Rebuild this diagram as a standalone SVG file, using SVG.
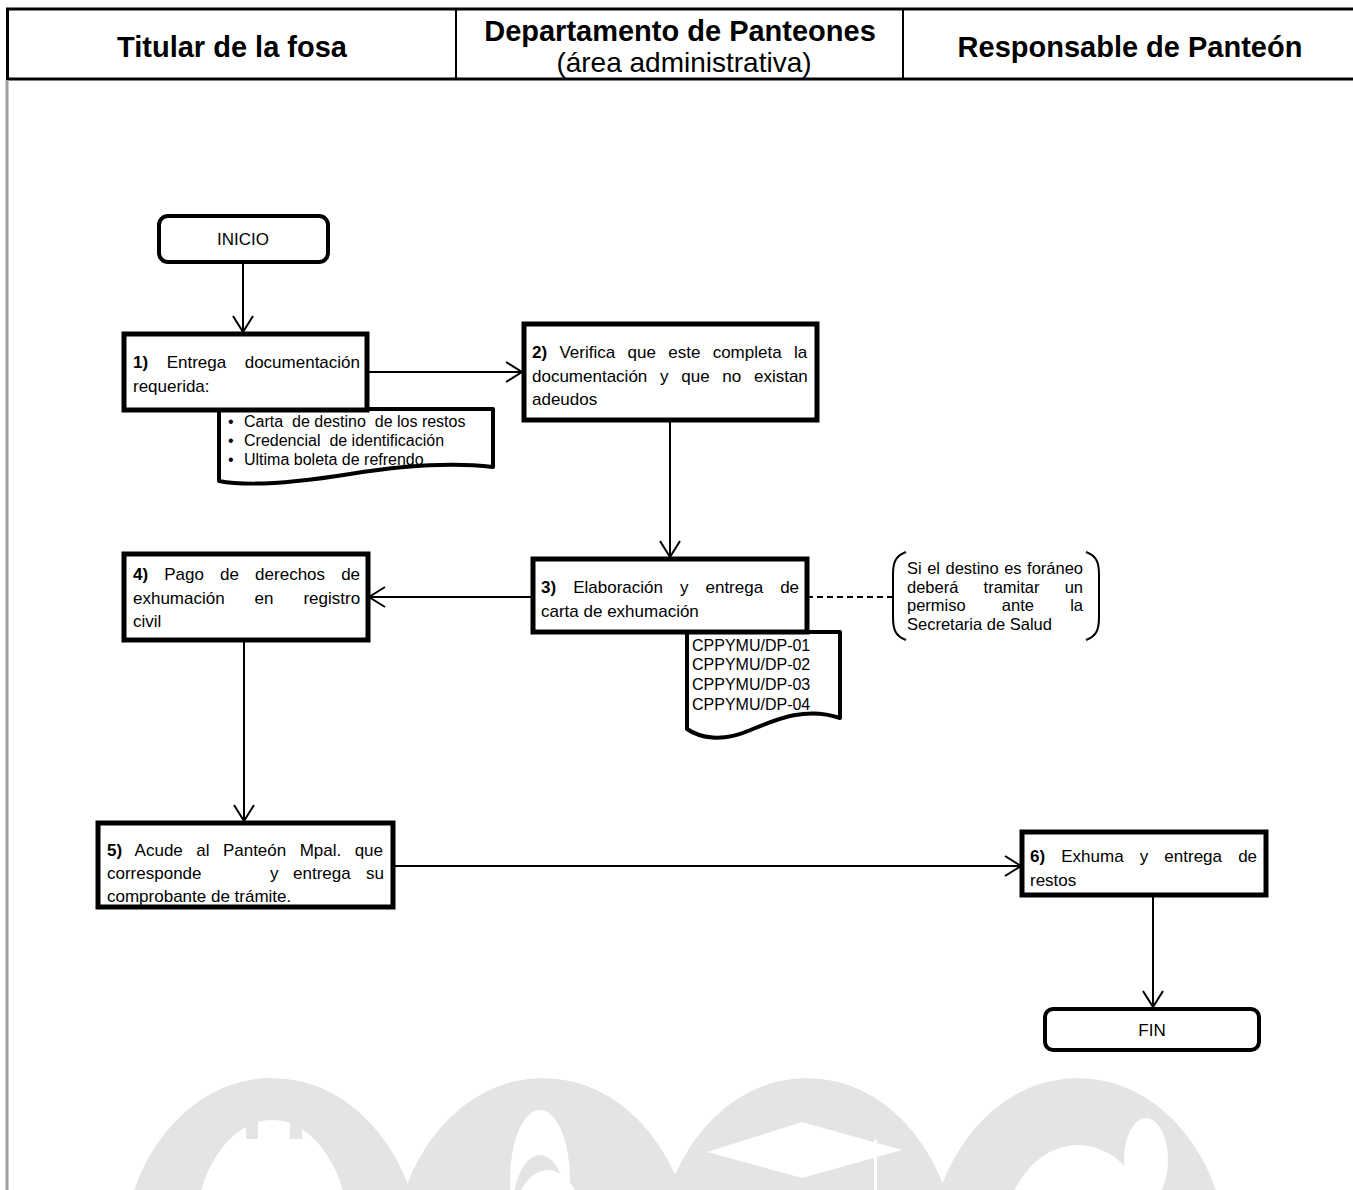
<svg xmlns="http://www.w3.org/2000/svg" width="1353" height="1190" viewBox="0 0 1353 1190">
<style>
text{font-family:"Liberation Sans",Arial,sans-serif;fill:#000}
.hd{font-size:29px;font-weight:bold}
.hs{font-size:28px}
.t{font-size:17px}
.s{font-size:16px}
.n{font-size:16.5px}
.c{font-size:16px}
.b{font-weight:bold}
.box{fill:#fff;stroke:#000;stroke-width:5}
.term{fill:#fff;stroke:#000;stroke-width:4}
.doc{fill:#fff;stroke:#000;stroke-width:4;stroke-linejoin:round}
.ln{stroke:#000;stroke-width:2;fill:none}
.wm{fill:#e4e4e4}
.wh{fill:#fff}
</style>
<defs>
<marker id="ah" viewBox="0 0 18 22" refX="17" refY="11" markerWidth="18" markerHeight="22" markerUnits="userSpaceOnUse" orient="auto">
<path d="M1,1 L17,11 L1,21" fill="none" stroke="#000" stroke-width="2"/>
</marker>
</defs>
<rect width="1353" height="1190" fill="#fff"/>
<g id="watermark">
<ellipse class="wm" cx="272" cy="1262" rx="150" ry="184"/>
<ellipse class="wm" cx="543" cy="1262" rx="150" ry="184"/>
<ellipse class="wm" cx="807" cy="1262" rx="150" ry="184"/>
<ellipse class="wm" cx="1078" cy="1262" rx="150" ry="184"/>
<ellipse class="wh" cx="272" cy="1240" rx="78" ry="120"/>
<rect class="wm" x="246" y="1117" width="12" height="22"/>
<rect class="wm" x="290" y="1117" width="12" height="22"/>
<ellipse class="wh" cx="540" cy="1180" rx="30" ry="70"/>
<ellipse class="wm" cx="540" cy="1215" rx="28" ry="60"/>
<ellipse class="wh" cx="548" cy="1230" rx="36" ry="60"/>
<polygon class="wh" points="707,1152 802,1122 902,1150 802,1178"/>
<rect class="wh" x="874" y="1140" width="3" height="50"/>
<ellipse class="wh" cx="1078" cy="1245" rx="76" ry="100"/>
<ellipse class="wh" cx="1146" cy="1160" rx="22" ry="42"/>
</g>
<g id="header">
<line x1="6" y1="9" x2="1353" y2="9" stroke="#000" stroke-width="3"/>
<line x1="6" y1="79" x2="1353" y2="79" stroke="#000" stroke-width="3"/>
<line x1="7.5" y1="9" x2="7.5" y2="79" stroke="#000" stroke-width="3"/>
<line x1="456" y1="9" x2="456" y2="79" stroke="#000" stroke-width="2"/>
<line x1="903" y1="9" x2="903" y2="79" stroke="#000" stroke-width="2"/>
<line x1="7" y1="80" x2="7" y2="1190" stroke="#a0a0a0" stroke-width="3"/>
<text class="hd" x="232" y="57" text-anchor="middle">Titular de la fosa</text>
<text class="hd" x="680" y="41" text-anchor="middle">Departamento de Panteones</text>
<text class="hs" x="684" y="72" text-anchor="middle">(área administrativa)</text>
<text class="hd" x="1130" y="57" text-anchor="middle">Responsable de Panteón</text>
</g>
<g id="connectors">
<line class="ln" x1="243" y1="263" x2="243" y2="332" marker-end="url(#ah)"/>
<line class="ln" x1="367" y1="372" x2="522" y2="372" marker-end="url(#ah)"/>
<line class="ln" x1="670" y1="420" x2="670" y2="557" marker-end="url(#ah)"/>
<line class="ln" x1="533" y1="597" x2="369" y2="597" marker-end="url(#ah)"/>
<line x1="807" y1="597" x2="893" y2="597" stroke="#000" stroke-width="2" stroke-dasharray="6,4"/>
<line class="ln" x1="244" y1="640" x2="244" y2="821" marker-end="url(#ah)"/>
<line class="ln" x1="393" y1="866" x2="1021" y2="866" marker-end="url(#ah)"/>
<line class="ln" x1="1153" y1="895" x2="1153" y2="1007" marker-end="url(#ah)"/>
</g>
<g id="inicio">
<rect class="term" x="159" y="216" width="169" height="46" rx="9"/>
<text class="t" x="243" y="245" text-anchor="middle">INICIO</text>
</g>
<g id="step1doc">
<path class="doc" d="M219,409 H493 V467 C450,462 400,466 350,474 C300,482 250,487 219,481 Z"/>
<text class="s" xml:space="preserve" x="228" y="427">•<tspan x="244">Carta  de destino  de los restos</tspan></text>
<text class="s" xml:space="preserve" x="228" y="446">•<tspan x="244">Credencial  de identificación</tspan></text>
<text class="s" x="228" y="465">•<tspan x="244">Ultima boleta de refrendo</tspan></text>
</g>
<g id="step1">
<rect class="box" x="124" y="334" width="243" height="76"/>
<text class="t" x="133" y="368" style="word-spacing:13.8px"><tspan class="b">1)</tspan> Entrega documentación</text>
<text class="t" x="133" y="392">requerida:</text>
</g>
<g id="step2">
<rect class="box" x="524" y="324" width="293" height="96"/>
<text class="t" x="532" y="358" style="word-spacing:7.6px"><tspan class="b">2)</tspan> Verifica que este completa la</text>
<text class="t" x="532" y="382" style="word-spacing:8px">documentación y que no existan</text>
<text class="t" x="532" y="405">adeudos</text>
</g>
<g id="step3doc">
<path class="doc" d="M687,632 H840 V718 C805,706 775,720 748,731 C722,742 700,738 687,729 Z"/>
<text class="c" x="692" y="651">CPPYMU/DP-01</text>
<text class="c" x="692" y="670">CPPYMU/DP-02</text>
<text class="c" x="692" y="690">CPPYMU/DP-03</text>
<text class="c" x="692" y="710">CPPYMU/DP-04</text>
</g>
<g id="step3">
<rect class="box" x="533" y="559" width="274" height="73"/>
<text class="t" x="541" y="593" style="word-spacing:12.3px"><tspan class="b">3)</tspan> Elaboración y entrega de</text>
<text class="t" x="541" y="617">carta de exhumación</text>
</g>
<g id="note">
<path class="ln" d="M906,552 C895,556 893,563 893,575 V617 C893,629 895,636 906,640"/>
<path class="ln" d="M1086,552 C1097,556 1099,563 1099,575 V617 C1099,629 1097,636 1086,640"/>
<text class="n" x="907" y="574" style="word-spacing:0.9px">Si el destino es foráneo</text>
<text class="n" x="907" y="593" style="word-spacing:20.6px">deberá tramitar un</text>
<text class="n" x="907" y="611" style="word-spacing:31.6px">permiso ante la</text>
<text class="n" x="907" y="630">Secretaria de Salud</text>
</g>
<g id="step4">
<rect class="box" x="124" y="554" width="244" height="86"/>
<text class="t" x="133" y="580" style="word-spacing:11.4px"><tspan class="b">4)</tspan> Pago de derechos de</text>
<text class="t" x="133" y="604" style="word-spacing:25.2px">exhumación en registro</text>
<text class="t" x="133" y="627">civil</text>
</g>
<g id="step5">
<rect class="box" x="98" y="823" width="295" height="84"/>
<text class="t" x="107" y="856" style="word-spacing:8.7px"><tspan class="b">5)</tspan> Acude al Panteón Mpal. que</text>
<text class="t" x="107" y="879">corresponde<tspan x="270">y</tspan><tspan x="293">entrega</tspan><tspan x="366">su</tspan></text>
<text class="t" x="107" y="902">comprobante de trámite.</text>
</g>
<g id="step6">
<rect class="box" x="1022" y="832" width="244" height="63"/>
<text class="t" x="1030" y="862" style="word-spacing:11.4px"><tspan class="b">6)</tspan> Exhuma y entrega de</text>
<text class="t" x="1030" y="886">restos</text>
</g>
<g id="fin">
<rect class="term" x="1045" y="1009" width="214" height="41" rx="8"/>
<text class="t" x="1152" y="1036" text-anchor="middle">FIN</text>
</g>
</svg>
